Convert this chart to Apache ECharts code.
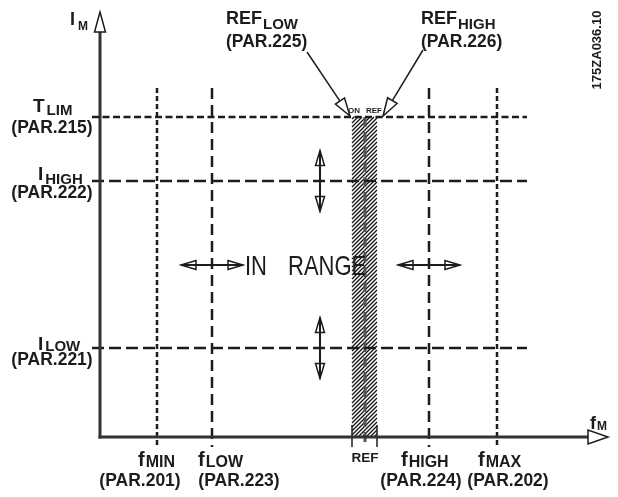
<!DOCTYPE html>
<html><head><meta charset="utf-8">
<script src="https://cdn.jsdelivr.net/npm/echarts@6/dist/echarts.min.js"></script>
<style>html,body{margin:0;padding:0;background:#fff}#c{width:618px;height:497px}</style>
</head><body><div id="c"></div>
<script>
// ---------------- data ----------------
const axisYLabel = ['I', 'M'];
const axisXLabel = ['f', 'M'];
const fSubs = ['MIN', 'LOW', '', 'HIGH', 'MAX'];
const fPositions = [57, 112, 265, 329, 397];
const fParams = ['(PAR.201)', '(PAR.223)', '', '(PAR.224)', '(PAR.202)'];
const iMains = ['T', 'I', 'I'];
const iSubs = ['LIM', 'HIGH', 'LOW'];
const iLevels = [320, 256, 89];
const iParams = ['(PAR.215)', '(PAR.222)', '(PAR.221)'];
const refBand = [252, 277];
const refLabel = 'REF';
const refLowLabel = ['REF', 'LOW', '(PAR.225)'];
const refHighLabel = ['REF', 'HIGH', '(PAR.226)'];
const refMarks = ['ON', 'REF'];
const rangeWords = ['IN', 'RANGE'];
const drawingId = '175ZA036.10';
const xMax = 508, yMax = 425;
const limitTop = 349;
const rangeY = 172;
const adjustX = 220;

// ---------------- layout / style ----------------
const FONT = '"Liberation Sans", Arial, sans-serif';
const INK = '#1c1c1c';
const AX = '#333';
const ctx = document.createElement('canvas').getContext('2d');
function tw(t, size, w) { ctx.font = (w || 'bold') + ' ' + size + 'px ' + FONT; return ctx.measureText(t).width; }
function L(p0, p1, w, dash, color) {
  return { type: 'line', shape: { x1: p0[0], y1: p0[1], x2: p1[0], y2: p1[1] },
    style: { stroke: color || INK, lineWidth: w, lineDash: dash || null, fill: null } };
}
function T(x, y, text, size, opt) {
  opt = opt || {};
  return { type: 'text', x: x, y: y, rotation: opt.rot || 0, scaleY: opt.sy || 1,
    style: { text: text, font: (opt.w || 'bold') + ' ' + size + 'px ' + FONT, fill: INK,
      align: opt.align || 'left', verticalAlign: 'middle' } };
}
function SUB(x, cy, main, sub, ms, ss, dy, gap) {
  const w = tw(main, ms);
  return [T(x, cy, main, ms), T(x + w + (gap == null ? 1 : gap), cy + dy, sub, ss)];
}
function head(tip, from, len, half, fill) {
  const dx = tip[0] - from[0], dy = tip[1] - from[1];
  const d = Math.hypot(dx, dy), ux = dx / d, uy = dy / d;
  const bx = tip[0] - ux * len, by = tip[1] - uy * len, nx = -uy, ny = ux;
  return { type: 'polygon', shape: { points: [tip, [bx + nx * half, by + ny * half], [bx - nx * half, by - ny * half]] },
    style: { fill: fill || '#fff', stroke: INK, lineWidth: 1.5 } };
}
function baseOf(tip, from, len) {
  const dx = tip[0] - from[0], dy = tip[1] - from[1], d = Math.hypot(dx, dy);
  return [tip[0] - dx / d * len, tip[1] - dy / d * len];
}

const hDash = [[7, 3.5], [12, 5], [12, 5]];
const hMainOff = [-10.5, -6, -3];
const hSubOff = [4, 5, 2];
const hParOff = [11, 12.5, 12.5];
const hMainX = [-67, -62, -62];
const vDash = [[5, 3], [11, 6], null, [11, 6], [5, 3]];
const vLabelX = [-19, -14, 0, -28, -19];
const vParX = [-17, 27, 0, -8, 11];

const chart = echarts.init(document.getElementById('c'), null, { renderer: 'canvas' });
chart.setOption({
  animation: false,
  grid: { left: 100, right: 10, top: 12, bottom: 60 },
  xAxis: { type: 'value', min: 0, max: xMax, show: false },
  yAxis: { type: 'value', min: 0, max: yMax, show: false },
  graphic: [{ type: 'text', x: 597, y: 50, rotation: Math.PI / 2,
    style: { text: drawingId, font: 'bold 13px ' + FONT, fill: INK, align: 'center', verticalAlign: 'middle' } }],
  series: [
    { // REF band
      type: 'custom', data: [[refBand[0], refBand[1], iLevels[0], fPositions[2]]],
      renderItem: function (p, api) {
        const a = api.coord([api.value(0), api.value(2)]);
        const b = api.coord([api.value(1), 0]);
        const xc = api.coord([api.value(3), 0])[0];
        const c = [];
        for (let k = a[0] + a[1] + 2; k < b[0] + b[1]; k += 4) {
          const xs = Math.max(a[0], k - b[1]), xe = Math.min(b[0], k - a[1]);
          if (xe > xs) c.push(L([xs, k - xs], [xe, k - xe], 1.2, null, '#111'));
        }
        c.push(L([xc, a[1]], [xc, b[1] + 10], 3, [10, 5], '#555'));
        c.push(L([a[0], b[1] - 12], [a[0], b[1] + 10], 1.5));
        c.push(L([b[0], b[1] - 12], [b[0], b[1] + 10], 1.5));
        c.push(T(a[0] - 4, a[1] - 6, refMarks[0], 8));
        c.push(T(a[0] + 14, a[1] - 6, refMarks[1], 8));
        // annotation arrows
        const tipL = [a[0] - 2, a[1] - 1], tailL = [a[0] - 45, a[1] - 65];
        c.push(L(tailL, baseOf(tipL, tailL, 18), 1.5));
        c.push(head(tipL, tailL, 18, 5.5));
        const tipR = [b[0] + 6, a[1] - 1], tailR = [b[0] + 46, a[1] - 67];
        c.push(L(tailR, baseOf(tipR, tailR, 18), 1.5));
        c.push(head(tipR, tailR, 18, 5.5));
        const lx = a[0] - 126, hx = b[0] + 44, ty = a[1] - 98;
        c.push(...SUB(lx, ty, refLowLabel[0], refLowLabel[1], 18, 15, 6, 1));
        c.push(T(lx, ty + 23, refLowLabel[2], 17.5));
        c.push(...SUB(hx, ty, refHighLabel[0], refHighLabel[1], 18, 15, 6, 1));
        c.push(T(hx, ty + 23, refHighLabel[2], 17.5));
        return { type: 'group', children: c };
      }
    },
    { // horizontal limits
      type: 'custom', data: iLevels.map(function (v, i) { return [0, v, i]; }),
      renderItem: function (p, api) {
        const i = api.value(2), v = api.value(1);
        const p0 = api.coord([-8, v]), p1 = api.coord([427, v]);
        const c = [L(p0, p1, 2.5, hDash[i])];
        const mx = api.coord([hMainX[i], v])[0];
        c.push(...SUB(mx, p0[1] + hMainOff[i], iMains[i], iSubs[i], 19, 15, hSubOff[i], 2));
        c.push(T(api.coord([-48, v])[0], p0[1] + hParOff[i], iParams[i], 17.5, { align: 'center' }));
        return { type: 'group', children: c };
      }
    },
    { // vertical limits
      type: 'custom', data: fPositions.map(function (v, i) { return [v, limitTop, i]; }),
      renderItem: function (p, api) {
        const i = api.value(2), v = api.value(0);
        const top = api.coord([v, api.value(1)]), bot = api.coord([v, -10]);
        const c = [];
        if (i === 2) {
          c.push(T(top[0], bot[1] + 11, refLabel, 13.5, { align: 'center' }));
        } else {
          c.push(L(top, bot, 2.5, vDash[i]));
          c.push(...SUB(top[0] + vLabelX[i], bot[1] + 13, 'f', fSubs[i], 20, 16, 3, 1));
          c.push(T(top[0] + vParX[i], bot[1] + 34, fParams[i], 17.5, { align: 'center' }));
        }
        return { type: 'group', children: c };
      }
    },
    { // adjustment arrows
      type: 'custom',
      data: [[adjustX, iLevels[1], 0], [adjustX, iLevels[2], 0], [fPositions[1], rangeY, 1], [fPositions[3], rangeY, 1]],
      renderItem: function (p, api) {
        const ctr = api.coord([api.value(0), api.value(1)]);
        const vert = api.value(2) === 0;
        const d = vert ? [0, 30.5] : [31, 0];
        const t1 = [ctr[0] - d[0], ctr[1] - d[1]], t2 = [ctr[0] + d[0], ctr[1] + d[1]];
        return { type: 'group', children: [
          L(t1, t2, 2),
          head(t1, t2, 15, 4.5, 'none'),
          head(t2, t1, 15, 4.5, 'none')
        ] };
      }
    },
    { // IN RANGE
      type: 'custom', data: [[145, 170]],
      renderItem: function (p, api) {
        const q = api.coord([api.value(0), api.value(1)]);
        return { type: 'group', children: [
          T(q[0], q[1], rangeWords[0], 22, { w: 'normal', sy: 1.25 }),
          T(q[0] + 43, q[1], rangeWords[1], 22, { w: 'normal', sy: 1.25 })
        ] };
      }
    },
    { // axes
      type: 'custom', data: [[0, 0]],
      renderItem: function (p, api) {
        const o = api.coord([0, 0]), yt = api.coord([0, yMax]), xt = api.coord([xMax, 0]);
        const c = [];
        c.push(L([o[0], o[1] + 1.5], [o[0], yt[1] + 20], 3, null, AX));
        c.push(head(yt, [o[0], o[1]], 20, 5.5));
        c.push(L([o[0] - 1.5, o[1]], [xt[0] - 20, o[1]], 3, null, AX));
        c.push(head(xt, [o[0], o[1]], 20, 7));
        c.push(...SUB(yt[0] - 30, yt[1] + 8, axisYLabel[0], axisYLabel[1], 18, 12, 7, 3));
        c.push(...SUB(xt[0] - 18, xt[1] - 13, axisXLabel[0], axisXLabel[1], 18, 12, 3, 1));
        return { type: 'group', children: c };
      }
    }
  ]
});
</script>
</body></html>
